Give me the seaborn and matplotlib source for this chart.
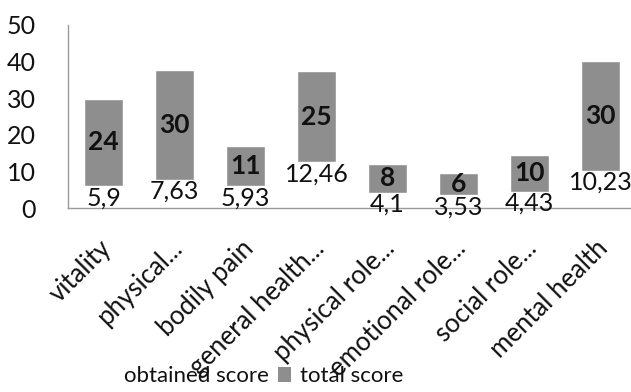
import matplotlib
matplotlib.use("Agg")
import matplotlib.pyplot as plt
import matplotlib.transforms as mtransforms
import seaborn as sns
import pandas as pd
from matplotlib.patches import Patch

categories = ["vitality", "physical...", "bodily pain", "general health...",
              "physical role...", "emotional role...", "social role...", "mental health"]
obtained_score = [5.9, 7.63, 5.93, 12.46, 4.1, 3.53, 4.43, 10.23]
total_score = [24, 30, 11, 25, 8, 6, 10, 30]
obtained_labels = ["5,9", "7,63", "5,93", "12,46", "4,1", "3,53", "4,43", "10,23"]
y_ticks = [0, 10, 20, 30, 40, 50]

sns.set_theme(style="white")
plt.rcParams["font.family"] = ["Lato", "DejaVu Sans"]

df = pd.DataFrame({
    "category": categories,
    "obtained": obtained_score,
    "total": total_score,
})
df["stack_top"] = df["obtained"] + df["total"]

fig = plt.figure(figsize=(6.31, 3.92), dpi=100)
ax = fig.add_axes([68 / 631, 184 / 392, 563 / 631, 183 / 392])

grey = "#8e8e8e"
ink = "#111111"
# full stack in grey, then the obtained part painted over in white
sns.barplot(data=df, x="category", y="stack_top", color=grey, width=0.56,
            saturation=1, ax=ax, order=categories)
sns.barplot(data=df, x="category", y="obtained", color="white", width=0.56,
            saturation=1, ax=ax, order=categories)

for i, (o, t, lab) in enumerate(zip(obtained_score, total_score, obtained_labels)):
    ax.text(i, o, lab, ha="center", va="top", fontsize=18, color=ink)
    ax.text(i, o + t / 2, str(t), ha="center", va="center", fontsize=19,
            fontweight="bold", color=ink)

ax.set_ylim(0, 50)
ax.set_xlim(-0.5, -0.5 + 563 / 71)
ax.set_yticks(y_ticks)
ax.set_yticklabels([str(v) for v in y_ticks], fontsize=18, color=ink)
ax.tick_params(axis="y", length=0, pad=23)
ax.tick_params(axis="x", length=0, pad=20)
ax.set_xticks(range(len(categories)))
ax.set_xticklabels(categories, rotation=45, ha="right", rotation_mode="anchor",
                   fontsize=18.5, color=ink)
shift = mtransforms.ScaledTranslation(-5 / 100, 0, fig.dpi_scale_trans)
for lbl in ax.get_xticklabels():
    lbl.set_transform(lbl.get_transform() + shift)
ax.set_xlabel("")
ax.set_ylabel("")

for side in ["top", "right"]:
    ax.spines[side].set_visible(False)
for side in ["left", "bottom"]:
    ax.spines[side].set_color("#9a9a9a")
    ax.spines[side].set_linewidth(1.0)

handles = [Patch(facecolor="white", edgecolor="none", label="obtained score"),
           Patch(facecolor=grey, edgecolor="none", label="total score")]
fig.legend(handles=handles, loc="center", bbox_to_anchor=(0.40, 0.04), ncol=2,
           frameon=False, fontsize=16, handlelength=0.6, handleheight=0.6,
           handletextpad=0.4, columnspacing=0.4, labelcolor=ink)

fig.savefig("out.png", dpi=100, facecolor="white")
